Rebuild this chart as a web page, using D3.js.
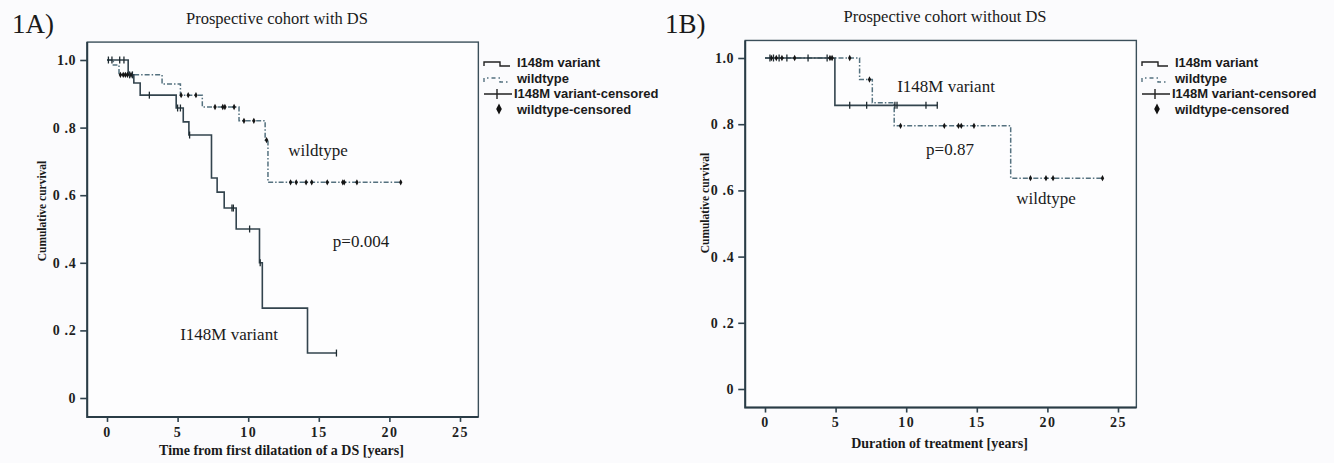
<!DOCTYPE html>
<html>
<head>
<meta charset="utf-8">
<script src="https://cdn.jsdelivr.net/npm/d3@7"></script>
<style>
  body { margin: 0; background: #fbfbfd; }
  .serif { font-family: "Liberation Serif", "Times New Roman", serif; fill: #1a1a1a; }
  .legend text { font-family: "Liberation Sans", Arial, sans-serif; font-weight: bold; font-size: 13px; fill: #1a1a1a; }
  .tick line { stroke: #2e414c; stroke-width: 1.6; }
</style>
</head>
<body>
<div class="chart"></div>
<script>
// ---- data ----
var xTicks = [0, 5, 10, 15, 20, 25];
var yTicks = [0, 0.2, 0.4, 0.6, 0.8, 1.0];
var yTickLabels = ["0", "0 .2", "0 .4", "0 .6", "0 .8", "1.0"];
var legendLabels = ["I148m variant", "wildtype", "I148M variant-censored", "wildtype-censored"];

// 1A: prospective cohort with DS
var aVariantTimes = [0, 1.5, 1.9, 2.35, 4.9, 5.4, 5.8, 7.4, 7.8, 8.3, 9.15, 10.8, 11.0, 14.2];
var aVariantSurv  = [1.0, 0.956, 0.932, 0.896, 0.858, 0.817, 0.778, 0.651, 0.609, 0.562, 0.5, 0.4, 0.266, 0.133];
var aVariantEnd = 16.25;
var aVariantCensored = [0.1, 0.35, 0.9, 1.2, 1.6, 1.8, 3.0, 5.0, 5.2, 5.85, 8.85, 8.95, 10.1, 10.85, 16.25];

var aWildTimes = [0, 0.45, 0.85, 3.9, 5.2, 6.75, 9.35, 11.2, 11.4];
var aWildSurv  = [1.0, 0.985, 0.956, 0.929, 0.896, 0.861, 0.82, 0.763, 0.638];
var aWildEnd = 20.8;
var aWildCensored = [0.95, 1.15, 1.3, 1.45, 1.7, 5.25, 5.75, 6.3, 7.65, 8.2, 8.35, 9.0, 9.7, 10.4, 11.3,
                     13.0, 13.4, 14.1, 14.5, 15.6, 16.7, 16.8, 17.7, 20.8];

// 1B: prospective cohort without DS
var bVariantTimes = [0, 4.95];
var bVariantSurv  = [1.0, 0.857];
var bVariantEnd = 12.2;
var bVariantCensored = [0.35, 0.6, 1.0, 1.55, 3.05, 4.4, 6.0, 7.2, 9.2, 9.35, 11.4, 12.2];

var bWildTimes = [0, 6.7, 7.6, 9.15, 17.4];
var bWildSurv  = [1.0, 0.935, 0.865, 0.795, 0.637];
var bWildEnd = 23.9;
var bWildCensored = [0.45, 0.8, 1.2, 2.1, 4.6, 4.75, 6.0, 7.4, 9.6, 12.7, 13.7, 13.9, 14.8, 18.8, 19.9, 20.4, 23.9];

var svg = d3.select(".chart")
  .append("svg")
  .attr("width", 1334)
  .attr("height", 463);

svg.append("rect").attr("width", 1334).attr("height", 463).attr("fill", "#fbfbfd");

drawPanel({
  tag: "1A)", tagX: 12, title: "Prospective cohort with DS", titleX: 277, titleY: 24,
  xRange: [107, 460], yRange: [398, 60],
  xTitle: "Time from first dilatation of a DS [years]", xTitleY: 455, yTitleX: 46, yTitleY: 211,
  legendX: 484,
  variant: {times: aVariantTimes, surv: aVariantSurv, end: aVariantEnd, cens: aVariantCensored},
  wild: {times: aWildTimes, surv: aWildSurv, end: aWildEnd, cens: aWildCensored},
  notes: [
    {text: "wildtype", x: 318, y: 156},
    {text: "p=0.004", x: 361, y: 247},
    {text: "I148M variant", x: 229, y: 340}
  ]
});

drawPanel({
  tag: "1B)", tagX: 665, title: "Prospective cohort without DS", titleX: 945, titleY: 22,
  xRange: [765, 1118], yRange: [389, 58],
  xTitle: "Duration of treatment [years]", xTitleY: 448, yTitleX: 709, yTitleY: 203,
  legendX: 1142,
  variant: {times: bVariantTimes, surv: bVariantSurv, end: bVariantEnd, cens: bVariantCensored},
  wild: {times: bWildTimes, surv: bWildSurv, end: bWildEnd, cens: bWildCensored},
  notes: [
    {text: "I148M variant", x: 946, y: 92},
    {text: "p=0.87", x: 950, y: 155},
    {text: "wildtype", x: 1046, y: 204}
  ]
});

function drawPanel(cfg) {
  var x = d3.scaleLinear().domain([0, 25]).range(cfg.xRange);
  var y = d3.scaleLinear().domain([0, 1]).range(cfg.yRange);
  var g = svg.append("g");

  // panel tag and title
  g.append("text").attr("class", "serif")
    .attr("x", cfg.tagX).attr("y", 33)
    .style("font-size", "27px")
    .text(cfg.tag);

  g.append("text").attr("class", "serif")
    .attr("x", cfg.titleX).attr("y", cfg.titleY)
    .attr("text-anchor", "middle")
    .style("font-size", "16.5px")
    .text(cfg.title);

  // plot box
  var x0 = x(-1.4), x1 = x(26.3), y0 = y(1.053), y1 = y(-0.056);
  g.append("rect")
    .attr("x", x0).attr("y", y0)
    .attr("width", x1 - x0).attr("height", y1 - y0)
    .attr("fill", "#fdfdfe")
    .attr("stroke", "#3b4f5a").attr("stroke-width", 1.4);
  g.append("path")
    .attr("d", `M${x0},${y0}V${y1}H${x1}`)
    .attr("fill", "none").attr("stroke", "#2a3c46").attr("stroke-width", 2);

  // axes
  var bottomAxis = d3.axisBottom(x).tickValues(xTicks).tickSize(5).tickPadding(5);
  var leftAxis = d3.axisLeft(y).tickValues(yTicks).tickSize(7).tickPadding(4)
    .tickFormat(function (d, i) { return yTickLabels[i]; });

  var xAxisG = g.append("g").attr("transform", `translate(0, ${y1})`).call(bottomAxis);
  var yAxisG = g.append("g").attr("transform", `translate(${x0}, 0)`).call(leftAxis);
  [xAxisG, yAxisG].forEach(function (a) {
    a.select(".domain").remove();
    a.attr("font-family", null).attr("font-size", null);
    a.selectAll("text")
      .style("font-family", "'Liberation Serif', serif")
      .style("font-weight", "bold")
      .style("font-size", "14px")
      .style("fill", "#1e1e1e");
  });
  xAxisG.selectAll("text").style("letter-spacing", "1.5px");
  yAxisG.selectAll("text").style("letter-spacing", "0.6px");

  // axis titles
  g.append("text").attr("class", "serif")
    .attr("x", (cfg.xRange[0] + cfg.xRange[1]) / 2 - 2).attr("y", cfg.xTitleY)
    .attr("text-anchor", "middle")
    .style("font-size", "14px").style("font-weight", "bold")
    .text(cfg.xTitle);

  g.append("text").attr("class", "serif")
    .attr("transform", `translate(${cfg.yTitleX}, ${cfg.yTitleY}) rotate(-90)`)
    .attr("text-anchor", "middle")
    .style("font-size", "11.5px").style("font-weight", "bold")
    .text("Cumulative curvival");

  // survival curves
  var line = d3.line().x(d => x(d[0])).y(d => y(d[1])).curve(d3.curveStepAfter);

  function pts(s) {
    var p = s.times.map((t, i) => [t, s.surv[i]]);
    p.push([s.end, s.surv[s.surv.length - 1]]);
    return p;
  }
  function survAt(s, t) {
    return s.surv[Math.max(0, d3.bisectRight(s.times, t) - 1)];
  }

  g.append("path").datum(pts(cfg.wild))
    .attr("d", line)
    .attr("fill", "none").attr("stroke", "#54717f")
    .attr("stroke-width", 1.5).attr("stroke-dasharray", "5,2,1.5,2");

  g.append("path").datum(pts(cfg.variant))
    .attr("d", line)
    .attr("fill", "none").attr("stroke", "#33444e")
    .attr("stroke-width", 1.6);

  // censored marks
  g.selectAll(".cw").data(cfg.wild.cens).enter()
    .append("path")
    .attr("transform", d => `translate(${x(d)}, ${y(survAt(cfg.wild, d))})`)
    .attr("d", "M0,-3.2L1.7,0L0,3.2L-1.7,0Z")
    .attr("fill", "#151515");

  g.selectAll(".cv").data(cfg.variant.cens).enter()
    .append("line")
    .attr("x1", d => x(d)).attr("x2", d => x(d))
    .attr("y1", d => y(survAt(cfg.variant, d)) - 3.5)
    .attr("y2", d => y(survAt(cfg.variant, d)) + 3.5)
    .attr("stroke", "#1e2a30").attr("stroke-width", 1.3);

  // annotations
  g.selectAll(".note").data(cfg.notes).enter()
    .append("text").attr("class", "serif")
    .attr("x", d => d.x).attr("y", d => d.y)
    .attr("text-anchor", "middle")
    .style("font-size", "17px")
    .text(d => d.text);

  // legend
  var lx = cfg.legendX;
  var lg = g.append("g").attr("class", "legend");
  lg.append("path").attr("d", `M${lx},66V62H${lx + 16}V66H${lx + 26}`)
    .attr("fill", "none").attr("stroke", "#222").attr("stroke-width", 1.4);
  lg.append("path").attr("d", `M${lx},82V78H${lx + 16}V82H${lx + 26}`)
    .attr("fill", "none").attr("stroke", "#54717f").attr("stroke-width", 1.4)
    .attr("stroke-dasharray", "4,3,1.5,3");
  lg.append("path").attr("d", `M${lx},94H${lx + 28}M${lx + 13},89V99`)
    .attr("fill", "none").attr("stroke", "#222").attr("stroke-width", 1.4);
  lg.append("path").attr("transform", `translate(${lx + 15}, 109)`)
    .attr("d", "M0,-5.5L2.8,0L0,5.5L-2.8,0Z").attr("fill", "#111");

  lg.selectAll("text").data(legendLabels).enter()
    .append("text")
    .attr("x", (d, i) => i == 2 ? lx + 30 : lx + 33)
    .attr("y", (d, i) => [67, 83, 98, 114][i])
    .text(d => d);
}
</script>
</body>
</html>
